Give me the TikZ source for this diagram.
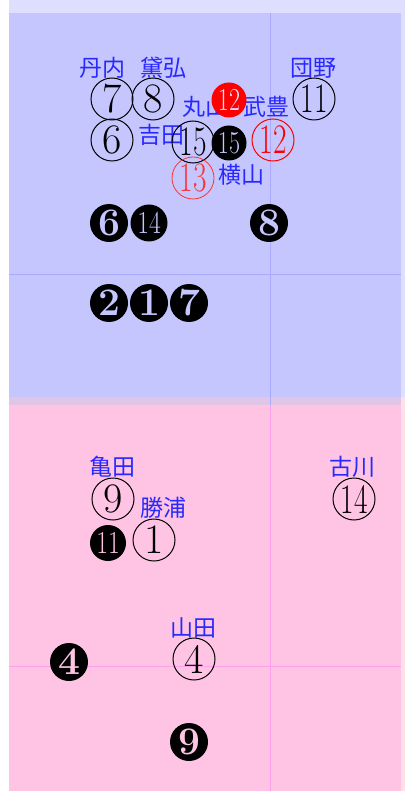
\documentclass[tikz,border=0pt]{standalone}
\usepackage{fontspec}
\usepackage{graphicx}
\newfontfamily\cjk{Noto Sans CJK JP}
\definecolor{lavbg}{RGB}{222,222,255}
\definecolor{bluebg}{RGB}{198,198,255}
\definecolor{pinkbg}{RGB}{255,196,228}
\definecolor{overbg}{RGB}{224,198,230}
\definecolor{lpinkbg}{RGB}{255,224,230}
\definecolor{bluegrid}{RGB}{170,170,255}
\definecolor{pinkgrid}{RGB}{255,160,235}
\definecolor{lblue}{RGB}{40,40,255}
\definecolor{lred}{RGB}{255,50,50}
\tikzset{
  lbl/.style={text=lblue, inner sep=0pt, font=\cjk\fontsize{23}{23}\selectfont},
  ocirc/.style={circle, draw=black, line width=1pt, minimum size=42pt, inner sep=0pt, font=\fontsize{42}{42}\selectfont},
  fcirc/.style={circle, fill=black, minimum size=38pt, inner sep=0pt, font=\fontsize{39}{39}\selectfont\bfseries},
  fcircs/.style={circle, fill=black, minimum size=35pt, inner sep=0pt, font=\fontsize{32}{32}\selectfont},
  onblue/.style={text=bluebg},
  onpink/.style={text=pinkbg},
}
\newcommand{\narrow}[2]{\scalebox{#1}[1]{#2}}
\begin{document}
\begin{tikzpicture}[x=1pt,y=-1pt]
\useasboundingbox (0,0) rectangle (405,791);
% backgrounds
\fill[white] (0,0) rectangle (405,791);
\fill[lavbg] (9,0) rectangle (405,397);
\fill[lpinkbg] (9,397) rectangle (405,791);
\fill[bluebg] (9,13) rectangle (401,397);
\fill[overbg] (9,397) rectangle (401,405);
\fill[pinkbg] (9,405) rectangle (401,791);
% grid lines
\draw[bluegrid, line width=0.8pt] (270,13) -- (270,405);
\draw[bluegrid, line width=0.8pt] (9,274) -- (401,274);
\draw[pinkgrid, line width=0.8pt] (270,405) -- (270,791);
\draw[pinkgrid, line width=0.8pt] (9,666) -- (401,666);
% labels
\node[lbl] (l1) at (102,68) {丹内};
\node[lbl] (l2) at (163,68) {黛弘};
\node[lbl] (l3) at (313,68) {団野};
\node[lbl] (l4) at (205,107) {丸山};
\node[lbl] (l5) at (266,107) {武豊};
\node[lbl] (l6) at (161,135) {吉田};
\node[lbl] (l7) at (241,175) {横山};
\node[lbl] (l8) at (112,467) {亀田};
\node[lbl] (l9) at (163,508) {勝浦};
\node[lbl] (l10) at (352,467) {古川};
\node[lbl] (l11) at (193,628) {山田};
% upper region
\node[ocirc] (c7) at (112,99) {7};
\node[ocirc] (c8) at (153,99) {8};
\node[ocirc] (c6) at (112,140) {6};
\node[ocirc] (c15) at (193,142) {\narrow{0.7}{15}};
\node[ocirc] (c11) at (314,99) {\narrow{0.7}{11}};
\node[fcircs, fill=red, text=lavbg] (r12f) at (229,100) {\narrow{0.75}{12}};
\node[fcircs, onblue] (f15) at (229,143) {\narrow{0.75}{15}};
\node[ocirc, draw=red, text=red] (r12o) at (273,140) {\narrow{0.7}{12}};
\node[ocirc, draw=lred, text=lred, line width=0.8pt] (r13o) at (193,178) {\narrow{0.7}{13}};
\node[fcirc, onblue] (f6) at (109,223) {6};
\node[fcircs, onblue, minimum size=37pt] (f14) at (149,223) {\narrow{0.8}{14}};
\node[fcirc, onblue] (f8) at (269,223) {8};
\node[fcirc, onblue] (f2) at (109,303) {2};
\node[fcirc, onblue] (f1) at (149,303) {1};
\node[fcirc, onblue] (f7) at (189,303) {7};
% lower region
\node[ocirc] (c9) at (113,499) {9};
\node[fcircs, onpink, minimum size=36pt] (f11) at (108,543) {\narrow{0.8}{11}};
\node[ocirc] (c1) at (154,540) {1};
\node[ocirc] (c14) at (354,499) {\narrow{0.7}{14}};
\node[ocirc] (c4) at (194,659) {4};
\node[fcirc, onpink] (f4) at (69,662) {4};
\node[fcirc, onpink] (f9) at (189,742) {9};
\end{tikzpicture}
\end{document}
